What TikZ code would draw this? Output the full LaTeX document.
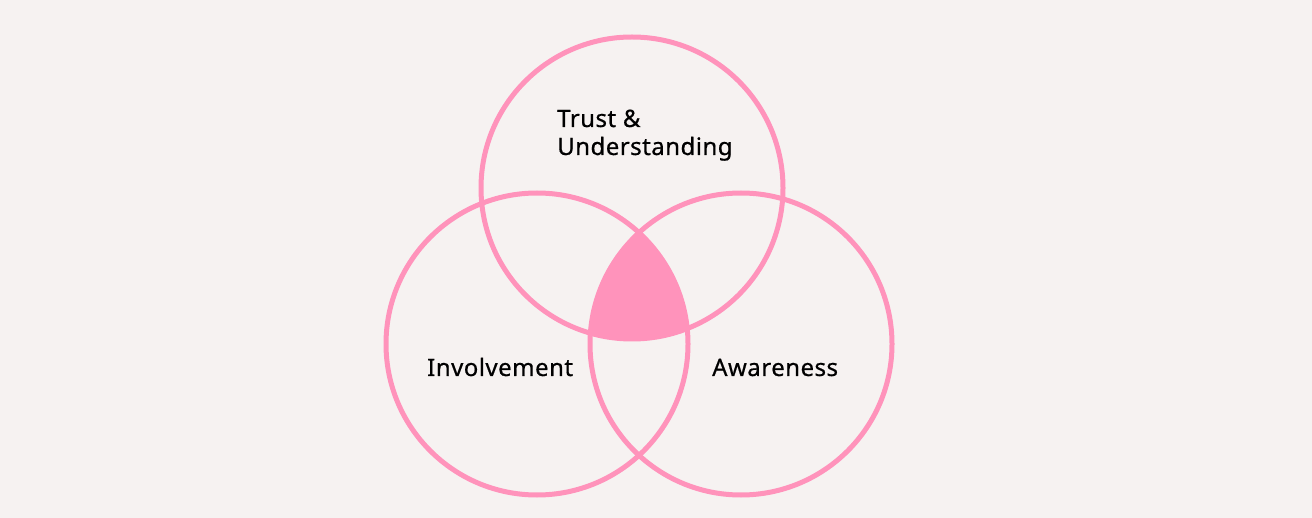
\documentclass[tikz,border=0pt]{standalone}
\usepackage{fontspec}
\setmainfont{Noto Sans}[FakeBold=0.6,LetterSpace=2]
\definecolor{bg}{HTML}{F6F2F1}
\definecolor{pk}{HTML}{FF93BB}
\begin{document}
\begin{tikzpicture}[x=1pt,y=-1pt,
  ring/.style={draw=pk,line width=5pt},
  lbl/.style={anchor=base west,inner sep=0pt,font=\fontsize{24}{28}\selectfont\bfseries,text=black}]
\fill[bg] (0,0) rectangle (1312,518);
\useasboundingbox (0,0) rectangle (1312,518);
\begin{scope}
  \clip (632,188) circle (151);
  \clip (537,344) circle (151);
  \fill[pk] (741,344) circle (151);
\end{scope}
\node[ring,circle,minimum size=302pt,inner sep=0pt] (t) at (632,188) {};
\node[ring,circle,minimum size=302pt,inner sep=0pt] (l) at (537,344) {};
\node[ring,circle,minimum size=302pt,inner sep=0pt] (r) at (741,344) {};
\node[lbl] (t1) at (557,127) {Trust \&};
\node[lbl] (t2) at (557,155) {Understanding};
\node[lbl] (li) at (427,376) {Involvement};
\node[lbl] (ra) at (712,376) {Awareness};
\end{tikzpicture}
\end{document}
